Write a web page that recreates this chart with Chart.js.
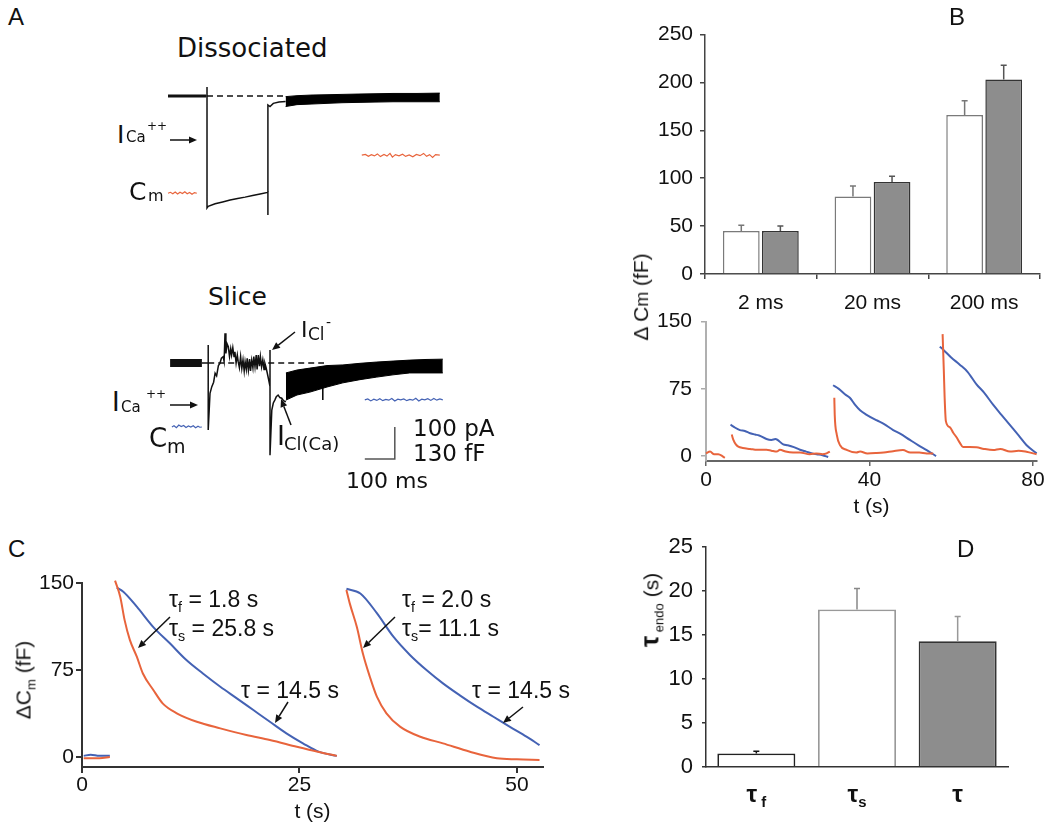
<!DOCTYPE html>
<html>
<head>
<meta charset="utf-8">
<script src="https://cdn.jsdelivr.net/npm/chart.js@4.4.1/dist/chart.umd.min.js"></script>
<style>
  body { margin: 0; width: 1050px; height: 829px; background: #fff; position: relative; overflow: hidden; }
  canvas { position: absolute; }
  .t { position: absolute; white-space: nowrap; line-height: 1; color: #111; }
  .dv { font-family: 'DejaVu Sans', sans-serif; }
  .ls { font-family: 'Liberation Sans', Arial, sans-serif; }
  .rot { transform: translate(-50%, -50%) rotate(-90deg); }
  .ctr { transform: translateX(-50%); }
  sub { font-size: 0.62em; vertical-align: -0.35em; line-height: 0; }
  svg { position: absolute; left: 0; top: 0; }
</style>
</head>
<body>
<script>
// ── Panel A: whole-cell traces (t in ms from pulse onset, I in pA, Cm in fF) ──
const dissPre   = [[-130, 0], [-3, 0]];
const dissStep  = [[-3, 0], [0, 0], [0, 28], [0, -350], [4, -345], [27, -337], [52, -331], [77, -325],
                   [102, -320], [127, -316], [152, -311], [177, -306], [203, -301], [203, -372], [203, -28],
                   [210, -33], [221, -23], [240, -19], [262, -17]];
const dissTop   = [[262, -2], [300, 1], [350, 3], [400, 4], [450, 5], [500, 6], [560, 7], [620, 8], [700, 8], [776, 9]];
const dissBot   = [[262, -33], [300, -27], [350, -25], [400, -23], [450, -21], [500, -20], [560, -19], [620, -18], [700, -18], [776, -18]];
const dissZero  = [[0, 0], [262, 0]];
const dissCmPre = [[-130, 0], [-122, 4], [-114, -2], [-106, 5], [-98, -3], [-90, 4], [-82, -1], [-74, 6],
                   [-66, -2], [-58, 3], [-50, -4], [-42, 3], [-34, 0]];
const dissCmPost = [[516, 155], [528, 158], [538, 150], [548, 157], [558, 152], [568, 160], [578, 149], [590, 158],
                    [600, 151], [610, 162], [618, 147], [628, 157], [640, 152], [652, 159], [662, 150], [674, 156],
                    [686, 148], [698, 158], [710, 153], [722, 162], [732, 150], [742, 157], [752, 146], [762, 157], [776, 155]];

const slicePre  = [[-123, 0], [-17, 0]];
const sliceStep = [[-17, 0], [4, 0], [4, 56], [4, -209], [10, -95], [16, -74], [22, -60], [27, -32], [32, -40],
                   [38, -8], [43, -1], [48, 15], [54, 20], [57, 5], [60, 93], [63, 30], [67, 60], [71, 51],
                   [75, 20], [79, 45], [82, 25], [86, 48], [90, 20], [93, 35], [97, 0], [101, 25], [104, 4],
                   [108, -15], [112, 20], [116, -17], [120, 10], [124, -25], [127, 4], [131, -20], [134, 15],
                   [138, -22], [142, 12], [145, -25], [149, 9], [153, -15], [156, 20], [160, -12], [164, 25],
                   [167, -20], [171, 25], [175, -10], [178, 20], [182, -12], [186, 10], [190, -20], [193, -1],
                   [197, -15], [201, -32], [205, -50], [210, -74], [210, 41], [210, -288], [216, -147],
                   [221, -125], [226, -116], [231, -105], [237, -100], [243, -108], [249, -110], [255, -118], [263, -121]];
const sliceTop  = [[263, -31], [300, -22], [343, -16], [400, -8], [453, -6], [510, -1], [566, 3], [620, 6], [676, 9], [730, 11], [786, 12]];
const sliceBot  = [[263, -116], [300, -100], [343, -91], [400, -75], [453, -62], [510, -52], [566, -44], [620, -37], [676, -31], [730, -31], [786, -31]];
const sliceSpike = [[386, -40], [386, -116]];
const sliceZero = [[4, 0], [390, 0]];
const sliceCmPre = [[-117, 0], [-110, 5], [-102, -3], [-94, 8], [-86, 2], [-78, 6], [-70, -2], [-62, 4],
                    [-54, 0], [-46, 5], [-38, -3], [-30, 3], [-24, -1], [-17, 0]];
const sliceCmPost = [[526, 110], [536, 114], [546, 106], [556, 113], [566, 108], [576, 115], [586, 107], [596, 112],
                     [606, 109], [616, 116], [626, 106], [636, 113], [646, 110], [656, 114], [666, 107], [676, 112],
                     [686, 109], [696, 117], [706, 106], [716, 113], [726, 110], [736, 115], [746, 108], [756, 116],
                     [766, 109], [776, 114], [786, 110]];
const scaleBarMs = 100, scaleBarPA = 100;

// ── Panel B: ΔCm per pulse duration ──
const pulseLabels = ['2 ms', '20 ms', '200 ms'];
const dissocCm  = [45, 81, 166];
const dissocErr = [6, 11, 15];
const sliceCm   = [45, 96, 203];
const sliceErr  = [5, 6, 15];

// B lower: Cm recovery after 2 / 20 / 200 ms pulses (t s, ΔCm fF)
const bRed0  = [[0, 3], [1, 5], [2, 2], [3, 2], [4, 0], [4.6, -2]];
const bBlue1 = [[6.0, 35], [7, 32], [8.3, 29], [9.5, 28], [10.8, 25.5], [12, 24], [13, 23], [14.8, 19], [16, 18],
                [17, 19], [18.9, 13], [20, 12], [21.5, 10], [23, 7], [24.5, 5], [26, 3], [27.1, 2], [28.5, 1], [29.9, -1]];
const bRed1  = [[6.3, 24], [6.7, 18], [7.3, 13], [7.9, 10.5], [9, 9], [10.8, 8], [12.5, 7], [14.8, 7], [16, 6],
                [17.3, 5], [18.1, 7], [19.5, 5], [21.3, 4], [23, 4], [25.4, 2], [27, 3], [28.5, 2], [29.5, 3], [30.3, 5]];
const bBlue2 = [[31.1, 79], [32.5, 75], [34, 69], [35.2, 65], [36.5, 57], [37.7, 51], [39.3, 46], [41.7, 40],
                [43.5, 36], [45.8, 29], [47.5, 25], [49.9, 18], [52, 12], [54, 6.7], [55.6, 2], [56.3, 0]];
const bRed2  = [[31.4, 65], [31.5, 46], [32, 24], [32.8, 12], [34.4, 7], [36.8, 4], [37.7, 5], [39.5, 3], [41.7, 3.4],
                [43.5, 4], [45.8, 5.5], [48.2, 6.7], [50, 4], [52.2, 4], [54, 3], [55.6, 3]];
const bBlue3 = [[57.2, 122], [58, 119], [60, 110], [62.1, 102], [64, 94], [66.2, 80], [68, 71], [70.3, 57],
                [72.3, 46], [74.3, 35], [76.5, 23], [78.4, 12.4], [80.9, 3]];
const bRed3  = [[57.9, 136], [58.2, 95], [58.4, 65], [58.7, 39], [59.7, 32], [60.5, 26], [61.3, 21], [62.1, 15],
                [62.9, 10], [64.5, 10], [66.2, 9.8], [68, 8], [70.3, 6.7], [72, 8], [74.4, 5], [76.5, 6], [78.4, 4.8], [80.9, 2]];

// ── Panel C: fitted recoveries (t s, ΔCm fF) ──
const cBlue0 = [[0.2, 1], [1, 2], [2, 1], [3.2, 1]];
const cRed0  = [[0.2, -1], [1, -1], [2, -1], [3.2, 0]];
const cBlue1 = [[4.0, 146], [4.75, 142.5], [6.3, 129.6], [8.2, 112], [10.1, 98], [12.0, 83.6], [13.9, 72], [15.9, 60.6],
                [17.8, 50.6], [19.7, 40.5], [21.6, 30.4], [23.5, 20.4], [25.4, 11.8], [27.2, 4.6], [29.3, 1]];
const cRed1  = [[3.8, 152], [4.4, 138], [4.9, 118], [5.5, 101], [6.3, 86.5], [7.0, 72], [8.2, 57.8], [9.3, 46],
                [10.9, 37.7], [13.2, 30.4], [15.9, 24.7], [18.9, 19], [21.6, 14.7], [24.7, 8.9], [27.1, 4.6], [29.3, 1]];
const cBlue2 = [[30.4, 145], [32.0, 141], [33.9, 124], [35.8, 103.7], [37.7, 88], [39.6, 75], [41.5, 63.5], [43.4, 53.4],
                [45.4, 43.4], [47.3, 34.7], [49.2, 26], [51.1, 17.5], [52.6, 10.3]];
const cRed2  = [[30.4, 144], [30.8, 132], [31.6, 112], [32.3, 89], [33.1, 69], [33.9, 52], [35.0, 37.7], [36.6, 26],
                [38.9, 17.5], [41.5, 11.8], [44.6, 4.6], [47.7, -1], [50, -2], [52.6, -2.6]];

// ── Panel D: endocytosis time constants (s) ──
const tauLabels = ['τf', 'τs', 'τ'];
const tauVals = [1.5, 17.9, 14.3];
const tauErr  = [0.25, 2.4, 2.8];

const RED = '#e8643c', BLUE = '#4462b4';
const TICK = { family: "'Liberation Sans', Arial, sans-serif", size: 21 };

Chart.defaults.font.family = TICK.family;
Chart.defaults.color = '#111';

function mk(id, l, t, w, h) {
  const c = document.createElement('canvas');
  c.id = id; c.width = w; c.height = h;
  c.style.cssText = `left:${l}px;top:${t}px;width:${w}px;height:${h}px`;
  document.body.appendChild(c);
  return c;
}
const pts = a => a.map(([x, y]) => ({ x, y }));
function line(arr, color, w, extra) {
  return Object.assign({ data: pts(arr), borderColor: color, backgroundColor: color, borderWidth: w,
    pointRadius: 0, fill: false, tension: 0, clip: false }, extra || {});
}
const smooth = (arr, color) => line(arr, color, 2, { cubicInterpolationMode: 'monotone' });
const base = extra => Object.assign({ responsive: false, animation: false, devicePixelRatio: 1, events: [],
  plugins: { legend: { display: false }, tooltip: { enabled: false } } }, extra);

const errorBars = {
  id: 'errorBars',
  afterDatasetsDraw(chart) {
    const ctx = chart.ctx, ys = chart.scales.y;
    chart.data.datasets.forEach((ds, i) => {
      if (!ds.errors) return;
      chart.getDatasetMeta(i).data.forEach((bar, j) => {
        const v = ds.data[j], e = ds.errors[j];
        if (v == null || e == null) return;
        const top = ys.getPixelForValue(v + e);
        ctx.save();
        ctx.strokeStyle = Array.isArray(ds.errorColor) ? ds.errorColor[j] : ds.errorColor;
        ctx.lineWidth = 1.5;
        ctx.beginPath();
        ctx.moveTo(bar.x, bar.y); ctx.lineTo(bar.x, top);
        ctx.moveTo(bar.x - 3, top); ctx.lineTo(bar.x + 3, top);
        ctx.stroke();
        ctx.restore();
      });
    });
  }
};

// ── A: traces, no visible axes ──
function traceScales(yMin, yMax, cMin, cMax) {
  return {
    x: { type: 'linear', display: false, min: -156.7, max: 810 },
    y: { type: 'linear', display: false, min: yMin, max: yMax },
    cm: { type: 'linear', axis: 'y', display: false, min: cMin, max: cMax }
  };
}
new Chart(mk('aTop', 160, 80, 290, 140), {
  type: 'line',
  data: { datasets: [
    line(dissPre, '#111', 3),
    line(dissStep, '#111', 1.5),
    line(dissTop, '#000', 1),
    line(dissBot, '#000', 1, { fill: '-1', backgroundColor: '#000' }),
    line(dissZero, '#111', 1.5, { borderDash: [6, 4] }),
    line(dissCmPre, RED, 1.2, { yAxisID: 'cm' }),
    line(dissCmPost, RED, 1.2, { yAxisID: 'cm' })
  ] },
  options: base({ scales: traceScales(-387.5, 50, -108.5, 460.3) })
});

const scaleBar = [[526, -300], [526 + scaleBarMs, -300], [526 + scaleBarMs, -300 + scaleBarPA]];
new Chart(mk('aBot', 160, 320, 290, 150), {
  type: 'line',
  data: { datasets: [
    line(slicePre, '#111', 8),
    line(sliceStep, '#111', 1.5),
    line(sliceTop, '#000', 1),
    line(sliceBot, '#000', 1, { fill: '-1', backgroundColor: '#000' }),
    line(sliceSpike, '#000', 1.5),
    line(sliceZero, '#111', 1.5, { borderDash: [6, 4] }),
    line(scaleBar, '#555', 1.5),
    line(sliceCmPre, BLUE, 1.2, { yAxisID: 'cm' }),
    line(sliceCmPost, BLUE, 1.2, { yAxisID: 'cm' })
  ] },
  options: base({ scales: traceScales(-334.4, 134.4, -174.7, 434.7) })
});

// ── B upper: bars ──
new Chart(mk('bTop', 630, 15, 420, 305), {
  type: 'bar',
  data: { labels: pulseLabels, datasets: [
    { data: dissocCm, errors: dissocErr, errorColor: '#777', backgroundColor: '#fff', borderColor: '#7a7a7a',
      borderWidth: 1.5, categoryPercentage: 0.70, barPercentage: 0.94 },
    { data: sliceCm, errors: sliceErr, errorColor: '#555', backgroundColor: '#8d8d8d', borderColor: '#333',
      borderWidth: 1.5, categoryPercentage: 0.70, barPercentage: 0.94 }
  ] },
  options: base({
    layout: { padding: { top: 18, right: 10, left: 0, bottom: 0 } },
    scales: {
      x: { grid: { drawOnChartArea: false, tickLength: 5, color: '#444', lineWidth: 1.5 },
           border: { color: '#444', width: 1.5 }, ticks: { font: TICK, padding: 12, color: '#111' },
           afterFit: s => { s.height = 46; } },
      y: { min: 0, max: 250, ticks: { stepSize: 50, font: TICK, padding: 7, color: '#111' },
           grid: { drawOnChartArea: false, tickLength: 5, color: '#444', lineWidth: 1.5 },
           border: { color: '#444', width: 1.5 }, afterFit: s => { s.width = 75; } }
    }
  }),
  plugins: [errorBars]
});

// ── B lower: recovery traces ──
new Chart(mk('bBot', 640, 300, 410, 220), {
  type: 'line',
  data: { datasets: [
    smooth(bRed0, RED), smooth(bRed1, RED), smooth(bBlue1, BLUE),
    smooth(bRed2, RED), smooth(bBlue2, BLUE), smooth(bRed3, RED), smooth(bBlue3, BLUE)
  ] },
  options: base({
    layout: { padding: { top: 20, right: 13, left: 0, bottom: 0 } },
    scales: {
      x: { type: 'linear', min: 0, max: 81,
           afterBuildTicks: s => { s.ticks = [0, 40, 80].map(v => ({ value: v })); },
           ticks: { font: TICK, padding: 2, color: '#111' },
           grid: { drawOnChartArea: false, tickLength: 5, color: '#666', lineWidth: 1.5 },
           border: { color: '#666', width: 2 },
           title: { display: true, text: 't (s)', font: TICK, color: '#111', padding: { top: 0, bottom: 0 } },
           afterFit: s => { s.height = 59; } },
      y: { min: -5.5, max: 150,
           afterBuildTicks: s => { s.ticks = [0, 75, 150].map(v => ({ value: v })); },
           ticks: { font: TICK, padding: 9, color: '#111' },
           grid: { drawOnChartArea: false, tickLength: 5, color: '#aaa', lineWidth: 1.5 },
           border: { color: '#b0b0b0', width: 2 }, afterFit: s => { s.width = 66; } }
    }
  })
});

// ── C: fitted recoveries ──
new Chart(mk('cMain', 15, 565, 550, 260), {
  type: 'line',
  data: { datasets: [
    smooth(cRed0, RED), smooth(cBlue0, BLUE),
    smooth(cRed1, RED), smooth(cBlue1, BLUE),
    smooth(cRed2, RED), smooth(cBlue2, BLUE)
  ] },
  options: base({
    layout: { padding: { top: 18, right: 22, left: 0, bottom: 0 } },
    scales: {
      x: { type: 'linear', min: 0, max: 53,
           afterBuildTicks: s => { s.ticks = [0, 25, 50].map(v => ({ value: v })); },
           ticks: { font: TICK, padding: 0, color: '#111' },
           grid: { drawOnChartArea: false, tickLength: 6, color: '#333', lineWidth: 2 },
           border: { color: '#333', width: 2 },
           title: { display: true, text: 't (s)', font: TICK, color: '#111', padding: { top: 0, bottom: 0 } },
           afterFit: s => { s.height = 58; } },
      y: { min: -8.6, max: 150,
           afterBuildTicks: s => { s.ticks = [0, 75, 150].map(v => ({ value: v })); },
           ticks: { font: TICK, padding: 2, color: '#111' },
           grid: { drawOnChartArea: false, tickLength: 6, color: '#333', lineWidth: 2 },
           border: { color: '#333', width: 2 }, afterFit: s => { s.width = 67; } }
    }
  })
});

// ── D: time constants ──
const chartD = new Chart(mk('dMain', 640, 525, 400, 295), {
  type: 'bar',
  data: { labels: tauLabels, datasets: [
    { data: tauVals, errors: tauErr, errorColor: ['#111', '#888', '#999'],
      backgroundColor: ['#fff', '#fff', '#8d8d8d'], borderColor: ['#222', '#999', '#333'],
      borderWidth: 1.8, categoryPercentage: 1, barPercentage: 0.775 }
  ] },
  options: base({
    layout: { padding: { top: 16.7, right: 32, left: 0, bottom: 0 } },
    scales: {
      x: { ticks: { display: false }, grid: { display: false }, border: { color: '#333', width: 1.5 },
           afterFit: s => { s.height = 53.3; } },
      y: { min: 0, max: 25, ticks: { stepSize: 5, font: { family: TICK.family, size: 22 }, padding: 9, color: '#111' },
           grid: { drawOnChartArea: false, tickLength: 4, color: '#333', lineWidth: 1.5 },
           border: { color: '#333', width: 1.5 }, afterFit: s => { s.width = 66; } }
    }
  }),
  plugins: [errorBars]
});

// ── text labels ──
function txt(html, left, top, cls, size, style) {
  const d = document.createElement('div');
  d.className = 't ' + cls;
  d.innerHTML = html;
  d.style.left = left + 'px';
  d.style.top = top + 'px';
  d.style.fontSize = size + 'px';
  if (style) d.style.cssText += style;
  document.body.appendChild(d);
  return d;
}
// panel letters
txt('A', 8, 5, 'ls', 24);
txt('B', 949, 5, 'ls', 24);
txt('C', 8, 537, 'ls', 24);
txt('D', 957, 537, 'ls', 24);
// A
txt('Dissociated', 177, 35, 'dv', 26);
txt('Slice', 208, 284, 'dv', 25);
txt('I', 117, 122, 'dv', 25); txt('Ca', 126, 130, 'dv', 15); txt('++', 147, 120, 'dv', 12);
txt('C', 129, 179, 'dv', 25); txt('m', 148, 188, 'dv', 16);
txt('I', 112, 389, 'dv', 26); txt('Ca', 121, 400, 'dv', 15); txt('++', 146, 388, 'dv', 12);
txt('C', 149, 425, 'dv', 26); txt('m', 167, 437, 'dv', 19);
txt('I', 301, 319, 'dv', 22); txt('Cl', 308, 326, 'dv', 17); txt('-', 326, 315, 'dv', 14);
txt('I', 277, 422, 'dv', 27); txt('Cl(Ca)', 284, 435, 'dv', 18);
txt('100 pA', 413, 417, 'dv', 23);
txt('130 fF', 413, 442, 'dv', 23);
txt('100 ms', 346, 470, 'dv', 22);
// B / C / D axis titles
txt('Δ C<span style="font-size:0.85em">m</span> (fF)', 641, 297, 'ls rot', 21);
txt('ΔC<sub>m</sub> (fF)', 23, 680, 'ls rot', 21);
txt('<b style="font-size:1.2em">τ</b><sub> endo</sub> (s)', 650, 610, 'ls rot', 21);
// C annotations
txt('τ<sub>f</sub> = 1.8 s', 169, 588, 'ls', 23);
txt('τ<sub>s</sub> = 25.8 s', 169, 617, 'ls', 23);
txt('τ = 14.5 s', 241, 679, 'ls', 23);
txt('τ<sub>f</sub> = 2.0 s', 402, 588, 'ls', 23);
txt('τ<sub>s</sub>= 11.1 s', 402, 617, 'ls', 23);
txt('τ = 14.5 s', 472, 679, 'ls', 23);
// D category labels, under each drawn bar
const dMeta = chartD.getDatasetMeta(0);
const canvasD = chartD.canvas;
['<b>τ</b><sub><b> f</b></sub>', '<b>τ</b><sub><b>s</b></sub>', '<b>τ</b>'].forEach((h, i) => {
  txt(h, canvasD.offsetLeft + dMeta.data[i].x, 782, 'ls ctr', 24);
});

// ── arrows ──
const NS = 'http://www.w3.org/2000/svg';
const svg = document.createElementNS(NS, 'svg');
svg.setAttribute('width', 1050); svg.setAttribute('height', 829);
document.body.appendChild(svg);
function arrow(x1, y1, x2, y2) {
  const l = document.createElementNS(NS, 'line');
  const a = Math.atan2(y2 - y1, x2 - x1), L = 8, W = 3.5;
  const bx = x2 - L * Math.cos(a), by = y2 - L * Math.sin(a);
  l.setAttribute('x1', x1); l.setAttribute('y1', y1); l.setAttribute('x2', bx); l.setAttribute('y2', by);
  l.setAttribute('stroke', '#111'); l.setAttribute('stroke-width', 1.5);
  svg.appendChild(l);
  const p = document.createElementNS(NS, 'polygon');
  const px = -Math.sin(a) * W, py = Math.cos(a) * W;
  p.setAttribute('points', `${x2},${y2} ${bx + px},${by + py} ${bx - px},${by - py}`);
  p.setAttribute('fill', '#111');
  svg.appendChild(p);
}
arrow(170, 140, 197, 140);
arrow(170, 405, 198, 405);
arrow(295, 332, 272, 350);
arrow(291, 425, 281, 399);
arrow(170, 617, 138, 648);
arrow(288, 702, 275, 723);
arrow(395, 617, 363, 648);
arrow(523, 707, 503, 723);
</script>
</body>
</html>
